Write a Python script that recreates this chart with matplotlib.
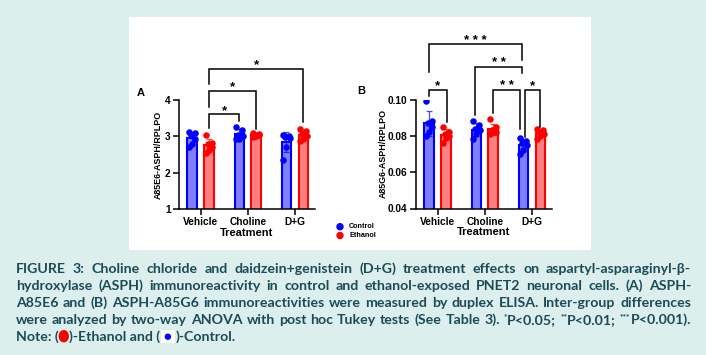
import numpy as np
import matplotlib
matplotlib.use("Agg")
import matplotlib.pyplot as plt
from matplotlib.patches import Rectangle, Ellipse

W, H = 706, 355

# ---- data ----
TREATMENTS = ["Vehicle", "Choline", "D+G"]

A_CONTROL = [
    [3.12, 3.08, 3.03, 2.94, 2.80, 2.72],
    [3.26, 3.17, 3.05, 3.00, 2.94, 2.92],
    [3.05, 3.00, 2.98, 2.95, 2.72, 2.35],
]
A_ETHANOL = [
    [3.03, 2.82, 2.78, 2.72, 2.62, 2.55],
    [3.09, 3.07, 3.05, 3.03, 3.01, 2.99],
    [3.19, 3.14, 3.06, 3.01, 2.92, 2.88],
]
B_CONTROL = [
    [0.099, 0.088, 0.087, 0.085, 0.082, 0.080],
    [0.088, 0.086, 0.084, 0.083, 0.081, 0.078],
    [0.079, 0.077, 0.076, 0.075, 0.072, 0.070],
]
B_ETHANOL = [
    [0.085, 0.082, 0.081, 0.080, 0.079, 0.076],
    [0.089, 0.085, 0.083, 0.082, 0.082, 0.081],
    [0.084, 0.083, 0.082, 0.081, 0.080, 0.078],
]

# significance brackets: (group1, side1, group2, side2, top, bottom1, bottom2, label)
# side: -1 control bar, +1 ethanol bar
A_SIG = [
    (0, 1, 1, -1, 3.61, 3.24, 3.43, "*"),
    (0, 1, 1, 1, 4.25, 3.80, 3.21, "*"),
    (0, 1, 2, 1, 4.86, 4.44, 3.40, "*"),
]
B_SIG = [
    (0, -1, 2, -1, 0.1305, 0.1149, 0.1217, "* * *"),
    (1, -1, 2, -1, 0.1180, 0.0917, 0.1147, "* *"),
    (1, 1, 2, -1, 0.1055, 0.0928, 0.0835, "* *"),
    (2, -1, 2, 1, 0.1055, 0.0792, 0.0849, "*"),
    (0, -1, 0, 1, 0.1055, 0.1020, 0.0877, "*"),
]
# tiny horizontal nudges where brackets meet on the same bar (B panel)
B_NUDGE = [(-0.01, -0.02), (-0.02, -0.02), (0.0, -0.075), (0.04, 0.0), (-0.01, 0.01)]

CAPTION = [
    "FIGURE 3: Choline chloride and daidzein+genistein (D+G) treatment effects on aspartyl-asparaginyl-\u03b2-",
    "hydroxylase (ASPH) immunoreactivity in control and ethanol-exposed PNET2 neuronal cells. (A) ASPH-",
    "A85E6 and (B) ASPH-A85G6 immunoreactivities were measured by duplex ELISA. Inter-group differences",
    "were analyzed by two-way ANOVA with post hoc Tukey tests (See Table 3). *P<0.05; **P<0.01; ***P<0.001).",
]

BLUE = "#0000ff"
RED = "#ff0000"
BLUE_FILL = "#8080ff"
RED_FILL = "#ff8080"
TEXT_COL = "#1b4b57"
BG = "#ddefed"

OFF = 0.18
BAR_W = 0.2
JITTER = [-0.06, 0.06, -0.03, 0.07, 0.0, -0.07]

plt.rcParams["font.family"] = ["Liberation Sans", "DejaVu Sans"]
plt.rcParams["font.weight"] = "bold"


def fx(px):
    return px / W


def fy(py):
    return 1 - py / H


fig = plt.figure(figsize=(W / 100, H / 100), dpi=100)
fig.patch.set_facecolor(BG)
fig.add_artist(Rectangle((fx(129), fy(250)), (591 - 129) / W, (250 - 17) / H,
                         transform=fig.transFigure, facecolor="white",
                         edgecolor="none", zorder=0))


def draw_panel(ax, control, ethanol, sig, nudges, ylim, yticks, yfmt, ylabel,
               letter, ylab_off, letter_pos):
    x = np.arange(len(TREATMENTS))
    for vals, side, edge, fill in [(control, -1, BLUE, BLUE_FILL),
                                   (ethanol, 1, RED, RED_FILL)]:
        means = [np.mean(v) for v in vals]
        sds = [np.std(v, ddof=1) for v in vals]
        xs = x + side * OFF
        ax.bar(xs, means, width=BAR_W, color=fill, edgecolor=edge,
               linewidth=1.5, zorder=2)
        ax.errorbar(xs, means, yerr=sds, fmt="none", ecolor=edge, elinewidth=0.9,
                    capsize=2.5, capthick=0.9, zorder=3, alpha=0.7)
        for xi, v in zip(xs, vals):
            ax.scatter(xi + np.array(JITTER[:len(v)]), v, s=22, color=edge,
                       zorder=4, linewidths=0)

    for (g1, s1, g2, s2, top, b1, b2, lab), (n1, n2) in zip(sig, nudges):
        x1 = g1 + s1 * OFF + n1
        x2 = g2 + s2 * OFF + n2
        ax.plot([x1, x1, x2, x2], [b1, top, top, b2], color="black", lw=1.1,
                clip_on=False, zorder=5, solid_joinstyle="miter")
        ax.annotate(lab, ((x1 + x2) / 2, top), xytext=(0, 0.3),
                    textcoords="offset points", ha="center", va="baseline",
                    fontsize=9.5, annotation_clip=False)

    ax.set_xlim(-0.46, 2.43)
    ax.set_ylim(*ylim)
    ax.set_yticks(yticks)
    ax.set_yticklabels([yfmt.format(t) for t in yticks])
    ax.set_xticks(x)
    ax.set_xticklabels(TREATMENTS)
    for s in ["top", "right"]:
        ax.spines[s].set_visible(False)
    for s in ["left", "bottom"]:
        ax.spines[s].set_linewidth(1.1)
    ax.tick_params(axis="both", length=4, width=1.1, pad=2, labelsize=7.3)
    ax.patch.set_alpha(0)

    ax.text(ylab_off, 0.5, ylabel, transform=ax.transAxes, rotation=90,
            ha="center", va="center", fontsize=6.4)
    ax.text(0.5, -0.217, "Treatment", transform=ax.transAxes, ha="center",
            va="center", fontsize=8)
    ax.text(letter_pos[0], letter_pos[1], letter, transform=ax.transAxes,
            ha="center", va="center", fontsize=8)


axA = fig.add_axes([fx(179), fy(209), 136 / W, 109 / H])
axB = fig.add_axes([fx(416), fy(208.5), 136 / W, 109 / H])

draw_panel(axA, A_CONTROL, A_ETHANOL, A_SIG, [(0, 0)] * 3, (1, 4), [1, 2, 3, 4],
           "{:g}", "A85E6-ASPH/RPLPO", "A", -0.155, (-0.28, 1.06))
draw_panel(axB, B_CONTROL, B_ETHANOL, B_SIG, B_NUDGE, (0.04, 0.10),
           [0.04, 0.06, 0.08, 0.10], "{:.2f}", "A85G6-ASPH/RPLPO", "B", -0.24,
           (-0.40, 1.08))

# legend
for py, col, lab in [(226.7, BLUE, "Control"), (235.5, RED, "Ethanol")]:
    fig.add_artist(Ellipse((fx(340), fy(py)), 6 / W, 6 / H,
                           transform=fig.transFigure, color=col))
    fig.text(fx(349), fy(py), lab, ha="left", va="center", fontsize=5.2)

# ---- caption ----
renderer = fig.canvas.get_renderer()
CAP_FONT = dict(family=["Lato", "DejaVu Sans"],
                weight="bold", color=TEXT_COL, fontsize=10.2)
BASELINES = [273.3, 290.2, 307.0, 323.9, 340.7]


def make_word(word):
    """Return list of (text, extra kwargs, dy_px) segments for one word."""
    stars = len(word) - len(word.lstrip("*"))
    if stars:
        return [("*" * stars, dict(fontsize=6), -4.5), (word[stars:], {}, 0)]
    return [(word, {}, 0)]


def measure(s, kw):
    t = fig.text(0, 0, s, **{**CAP_FONT, **kw})
    w = t.get_window_extent(renderer).width
    t.remove()
    return w


for line, base in zip(CAPTION, BASELINES):
    words = [make_word(w) for w in line.split(" ")]
    widths = [sum(measure(s, kw) for s, kw, _ in segs) for segs in words]
    gap = (691 - 16 - sum(widths)) / (len(words) - 1)
    xpos = 16
    for segs, wd in zip(words, widths):
        xx = xpos
        for s, kw, dy in segs:
            fig.text(fx(xx), fy(base + dy), s, ha="left", va="baseline",
                     **{**CAP_FONT, **kw})
            xx += measure(s, kw)
        xpos += wd + gap

# last line with coloured dots
xpos = 16
base = BASELINES[4]
pieces = ["Note: (", "RED", ")-Ethanol and (", "BLUE", ")-Control."]
for p in pieces:
    if p == "RED":
        fig.add_artist(Ellipse((fx(xpos + 5), fy(base - 4.5)), 9 / W, 11 / H,
                               transform=fig.transFigure, color=RED))
        xpos += 10
    elif p == "BLUE":
        fig.add_artist(Rectangle((fx(xpos + 1), fy(base + 2.5)), 14 / W, 13 / H,
                                 transform=fig.transFigure, facecolor="white",
                                 edgecolor="none"))
        fig.add_artist(Ellipse((fx(xpos + 8), fy(base - 4)), 5 / W, 5 / H,
                               transform=fig.transFigure, color=BLUE))
        xpos += 16
    else:
        fig.text(fx(xpos), fy(base), p, ha="left", va="baseline", **CAP_FONT)
        xpos += measure(p, {})

fig.savefig("out.png", dpi=100, facecolor=fig.get_facecolor())
